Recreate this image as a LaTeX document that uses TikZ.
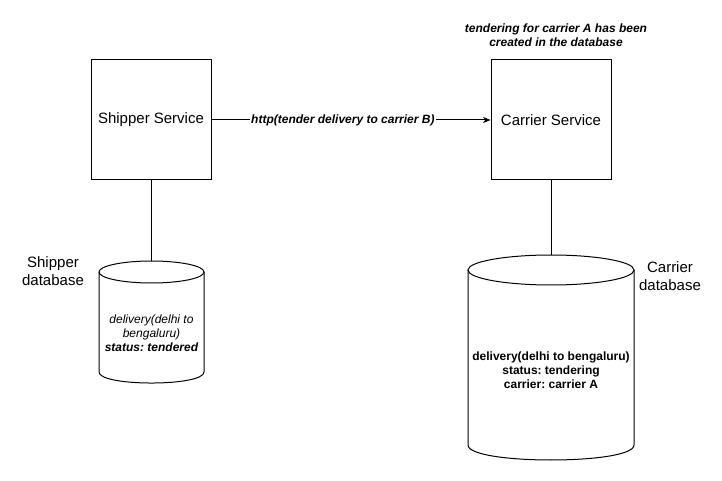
\documentclass[tikz,border=0pt]{standalone}
\usepackage{fontspec}
\setmainfont{Liberation Sans}
\usetikzlibrary{arrows.meta}
\frenchspacing
\begin{document}
\begin{tikzpicture}[x=0.75pt,y=-0.75pt, line width=0.75pt,
  svc/.style={draw, minimum width=90pt, minimum height=90pt, inner sep=0pt,
    font=\fontsize{11.25}{13.5}\selectfont},
  big/.style={font=\fontsize{11.25}{13.5}\selectfont, align=center, inner sep=0pt},
  smit/.style={font=\fontsize{9}{10.5}\selectfont\itshape, align=center, inner sep=0pt},
  smbf/.style={font=\fontsize{9}{10.5}\selectfont\bfseries, align=center, inner sep=0pt},
  smbi/.style={font=\fontsize{9}{10.5}\selectfont\bfseries\itshape, align=center, inner sep=0pt},
  conn/.style={draw=black, line width=0.75pt}]
\useasboundingbox (0,0) rectangle (722,481);
% services
\node[svc] (ship) at (151,120) {Shipper Service};
\node[svc] (carr) at (551,120) {Carrier Service};
% shipper database cylinder
\draw (99,272) -- (99,372) .. controls (99,386.7) and (204,386.7) .. (204,372) -- (204,272);
\draw (151.5,272) ellipse [x radius=52.5, y radius=11];
\coordinate (sdbtop) at (151,261);
\node[smit] (sdbtxt) at (151.5,333) {delivery(delhi to\\bengaluru)\\\textbf{status: tendered}};
% carrier database cylinder
\draw (468,270) -- (468,445) .. controls (468,465) and (634,465) .. (634,445) -- (634,270);
\draw (551,270) ellipse [x radius=83, y radius=15];
\coordinate (cdbtop) at (551,255);
\node[smbf] (cdbtxt) at (551,370) {delivery(delhi to bengaluru)\\status: tendering\\carrier: carrier A};
% labels
\node[big] (sdblbl) at (53,271) {Shipper\\database};
\node[big] (cdblbl) at (670,276) {Carrier\\database};
\node[smbi] (note) at (556,35) {tendering for carrier A has been\\created in the database};
% connectors
\draw[conn] (ship.south) -- (ship.south |- sdbtop);
\draw[conn] (carr.south) -- (carr.south |- cdbtop);
\draw[conn, -{Stealth[length=5.5pt,width=4.5pt,inset=1.5pt]}] (ship.east) -- node[pos=0.471, fill=white, smbi, inner sep=1pt] (http) {http(tender delivery to carrier B)} (carr.west);
\end{tikzpicture}
\end{document}
